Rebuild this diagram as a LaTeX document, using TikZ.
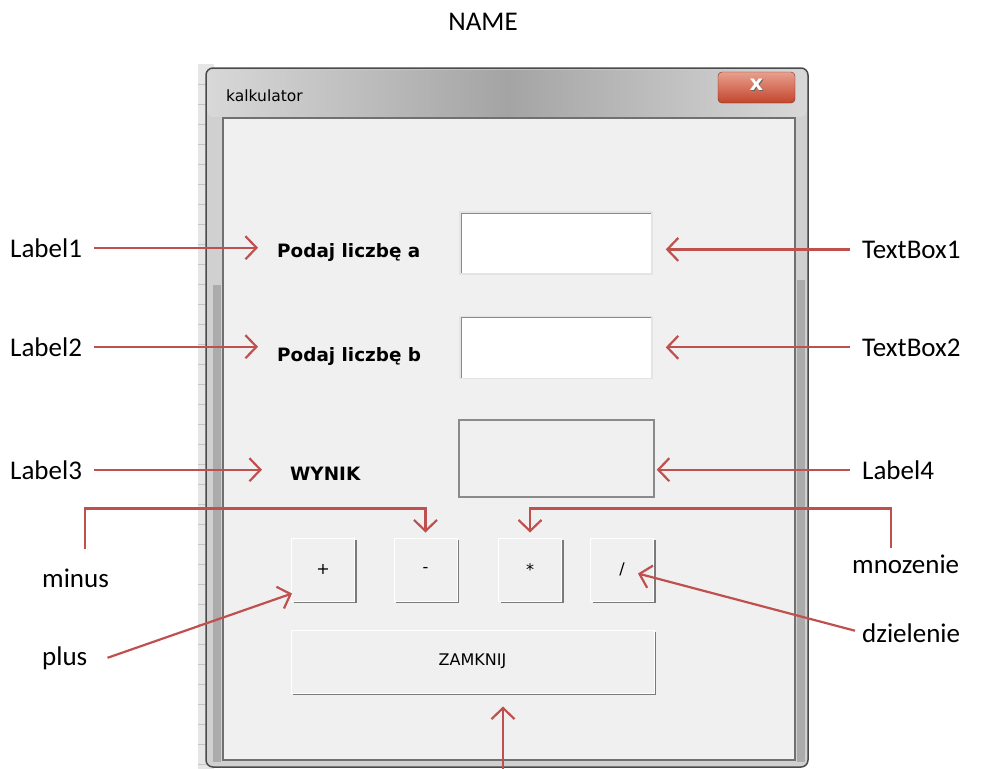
\documentclass[tikz,border=0pt]{standalone}
\usepackage{fontspec}
\setmainfont{Carlito}
\newfontfamily\uifont{DejaVu Sans}
\usetikzlibrary{arrows.meta,shadows}

\definecolor{arrowred}{HTML}{C0504D}
\definecolor{panel}{HTML}{F0F0F0}
\definecolor{paneldark}{HTML}{707070}
\definecolor{sheetgray}{HTML}{E6E6E6}
\definecolor{gridgray}{HTML}{C4C4C4}
\definecolor{framegray}{HTML}{D0D0D0}
\definecolor{framedark}{HTML}{4A4A4A}
\definecolor{glassdark}{HTML}{ABABAB}
\definecolor{tblight}{HTML}{D8D8D8}
\definecolor{tbdark}{HTML}{A4A4A4}
\definecolor{closetop}{HTML}{E9A08E}
\definecolor{closebot}{HTML}{C2452E}
\definecolor{closeedge}{HTML}{7A2A1E}
\definecolor{btnshadow}{HTML}{7A7A7A}
\definecolor{boxdark}{HTML}{8A8A8A}
\definecolor{boxlight}{HTML}{E4E4E4}

\begin{document}
\begin{tikzpicture}[x=1pt,y=-1pt,
  note/.style = {font=\fontsize{27}{30}\selectfont, inner sep=0pt},
  arr/.style = {draw=arrowred, line width=2.2pt,
    -{Straight Barb[length=11pt,width=23pt]}},
  caption/.style = {font=\uifont\bfseries\fontsize{18.4}{20}\selectfont,
    inner sep=0pt, anchor=west},
  btn/.style = {fill=panel, draw=white, line width=1pt, inner sep=0pt,
    minimum width=63pt, minimum height=63pt,
    font=\uifont\fontsize{16}{18}\selectfont,
    drop shadow={shadow xshift=2pt, shadow yshift=-2pt, fill=btnshadow, opacity=1}},
  tbox/.style = {fill=white, draw=boxlight, line width=1.5pt,
    minimum width=192pt, minimum height=62pt,
    path picture={\draw[boxdark, line width=3pt]
      (path picture bounding box.south west) |- (path picture bounding box.north east);}}
  ]
  \useasboundingbox (0,0) rectangle (989,769);

  % sheet behind the form
  \fill[sheetgray] (198,64) rectangle (214,769);
  \foreach \y in {84,104,...,764}
    \draw[gridgray, line width=0.7pt] (198,\y) -- (213,\y);

  % form frame
  \draw[fill=framegray, draw=framedark, line width=1.5pt, rounded corners=7pt]
    (206,68) rectangle (808,767);
  \shade[left color=tblight, right color=tblight, middle color=tbdark, rounded corners=6pt]
    (207.5,69.5) rectangle (806.5,117);
  \fill[glassdark] (213,285) rectangle (221,762);
  \fill[glassdark] (797,280) rectangle (805,762);
  \draw[fill=panel, draw=paneldark, line width=1.5pt] (223,118) rectangle (795,760);

  % title bar
  \node[anchor=west, inner sep=0pt, font=\uifont\fontsize{15.5}{17}\selectfont] (title) at (226,96) {kalkulator};
  \shadedraw[top color=closetop, bottom color=closebot, draw=closeedge, rounded corners=4pt]
    (718,72) rectangle (795,103);
  \node[text=black!60, font=\uifont\bfseries\fontsize{21}{22}\selectfont] at (757.5,86) {x};
  \node[text=white, font=\uifont\bfseries\fontsize{21}{22}\selectfont] (closex) at (756.5,85) {x};

  % controls
  \node[caption] (podajA) at (277,252) {Podaj liczbę a};
  \node[caption] (podajB) at (277,356) {Podaj liczbę b};
  \node[caption] (wynik) at (290,474) {WYNIK};
  \node[tbox] (tb1) at (556,243) {};
  \node[tbox] (tb2) at (556,347.5) {};
  \node[draw=boxdark, line width=1.5pt, minimum width=195pt, minimum height=77pt] (lab4box) at (556.5,458.5) {};
  \node[btn] (btnplus) at (323,569.5) {+};
  \node[btn] (btnminus) at (425.5,569.5) {-};
  \node[btn] (btnmul) at (530,569.5) {*};
  \node[btn] (btndiv) at (622,569.5) {/};
  \node[btn, minimum width=363pt] (btnclose) at (472.5,661.5) {ZAMKNIJ};

  % names
  \node[note, anchor=base] (formname) at (483,30) {NAME};
  \node[note, anchor=base west] (label1) at (10,257) {Label1};
  \node[note, anchor=base west] (label2) at (10,356) {Label2};
  \node[note, anchor=base west] (label3) at (10,479) {Label3};
  \node[note, anchor=base west] (textbox1) at (862,258) {TextBox1};
  \node[note, anchor=base west] (textbox2) at (862,356) {TextBox2};
  \node[note, anchor=base west] (label4) at (862,479) {Label4};
  \node[note, anchor=base west] (minus) at (42,587) {minus};
  \node[note, anchor=base west] (mnozenie) at (852,573) {mnozenie};
  \node[note, anchor=base west] (plus) at (42,665) {plus};
  \node[note, anchor=base west] (dzielenie) at (862,642) {dzielenie};
  \coordinate (bottom) at (503,769);

  \draw[arr, shorten <=12pt, shorten >=19pt] (label1.east) -- (label1.east -| podajA.west);
  \draw[arr, shorten <=12pt, shorten >=19pt] (label2.east) -- (label2.east -| podajB.west);
  \draw[arr, shorten <=12pt, shorten >=28pt] (label3.east) -- (label3.east -| wynik.west);
  \draw[arr, shorten <=12pt, shorten >=13pt] (textbox1.west) -- (textbox1.west -| tb1.east);
  \draw[arr, shorten <=12pt, shorten >=13pt] (textbox2.west) -- (textbox2.west -| tb2.east);
  \draw[arr, shorten <=12pt, shorten >=2pt] (label4.west) -- (label4.west -| lab4box.east);
  \draw[arr] ([xshift=43pt,yshift=19pt]minus.north west) |- ([yshift=29pt]btnminus.north)
    -- ([yshift=5pt]btnminus.north);
  \draw[arr] ([xshift=39pt,yshift=6pt]mnozenie.north west) |- ([yshift=29pt]btnmul.north)
    -- ([yshift=5pt]btnmul.north);
  \draw[arr] ([xshift=20pt]plus.east) -- ([xshift=1pt,yshift=8pt]btnplus.south west);
  \draw[arr] ([xshift=-7pt,yshift=2pt]dzielenie.west) -- ([xshift=16pt,yshift=-4pt]btndiv.center);
  \draw[arr, shorten >=13pt] (bottom) -- (bottom |- btnclose.south);
\end{tikzpicture}
\end{document}
